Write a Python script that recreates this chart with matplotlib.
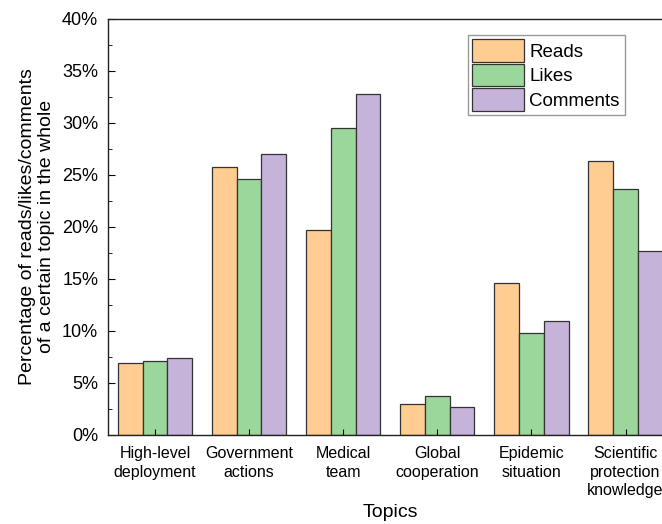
import matplotlib.pyplot as plt
import numpy as np
from matplotlib.ticker import MultipleLocator, PercentFormatter

plt.rcParams["font.family"] = ["Liberation Sans", "DejaVu Sans"]

topics = ["High-level\ndeployment", "Government\nactions", "Medical\nteam",
          "Global\ncooperation", "Epidemic\nsituation",
          "Scientific\nprotection\nknowledge"]
reads = [6.9, 25.8, 19.7, 3.0, 14.6, 26.3]
likes = [7.1, 24.6, 29.5, 3.7, 9.8, 23.6]
comments = [7.4, 27.0, 32.8, 2.7, 11.0, 17.7]

series = [("Reads", reads, "#FFCC91"),
          ("Likes", likes, "#9BD69B"),
          ("Comments", comments, "#C5B3DA")]

fig = plt.figure(figsize=(6.62, 5.24), dpi=100)
# the original picture is cropped on the right, so the axes run past the edge
ax = fig.add_axes([0.163, 0.170, 0.853, 0.794])

x = np.arange(len(topics))
w = 0.263
for i, (name, vals, col) in enumerate(series):
    ax.bar(x + (i - 1) * w, vals, w, color=col, edgecolor="#333333",
           linewidth=0.9, label=name)

ax.set_xlim(-0.5, len(topics) - 0.5)
ax.set_ylim(0, 40)
ax.yaxis.set_major_locator(MultipleLocator(5))
ax.yaxis.set_minor_locator(MultipleLocator(2.5))
ax.yaxis.set_major_formatter(PercentFormatter(decimals=0))
ax.set_xticks(x)
ax.set_xticklabels(topics, fontsize=11.5, linespacing=1.3)
ax.tick_params(axis="y", which="major", direction="in", length=5, labelsize=13, pad=7)
ax.tick_params(axis="y", which="minor", direction="in", length=3)
ax.tick_params(axis="x", direction="in", length=4, pad=8)
for s in ax.spines.values():
    s.set_color("#222222")
    s.set_linewidth(1.0)

# "Topics" sits just under the three-line label
ax.set_xlabel("Topics", fontsize=14, labelpad=4)
ax.set_ylabel("Percentage of reads/likes/comments\nof a certain topic in the whole",
              fontsize=14, labelpad=5)

leg = ax.legend(loc="upper left", bbox_to_anchor=(0.637, 0.962), fontsize=13.5,
                handlelength=2.75, handleheight=1.45, handletextpad=0.3,
                labelspacing=0.12, borderpad=0.25, borderaxespad=0,
                fancybox=False, framealpha=1)
leg.get_frame().set_edgecolor("#999999")

fig.savefig("out.png", dpi=100)
